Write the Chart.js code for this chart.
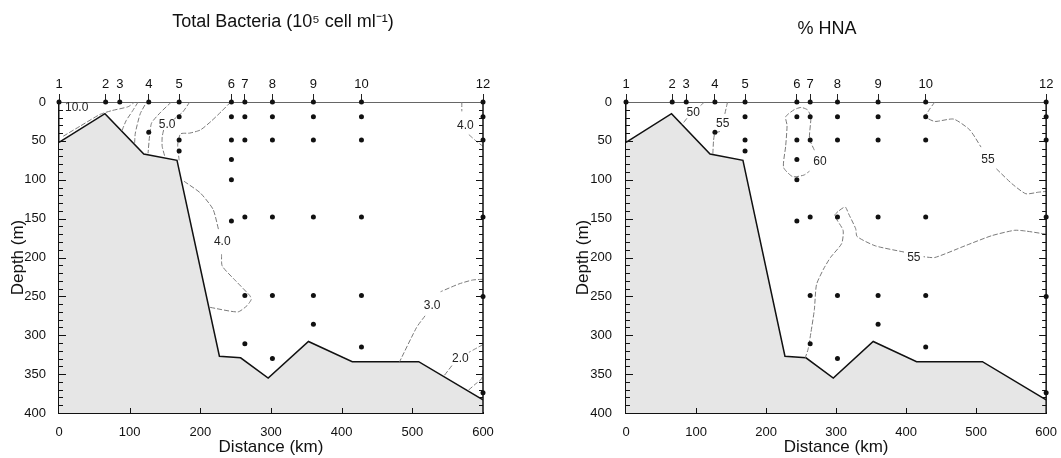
<!DOCTYPE html>
<html>
<head>
<meta charset="utf-8">
<script src="https://cdn.jsdelivr.net/npm/chart.js@4.4.1/dist/chart.umd.min.js"></script>
<style>
  html, body { margin: 0; padding: 0; background: #fff; }
  #wrap { position: relative; width: 1061px; height: 458px; }
  .panel { position: absolute; top: 0; height: 458px; }
  #left { left: 0; width: 530px; }
  #right { left: 530px; width: 531px; }
</style>
</head>
<body>
<div id="wrap">
  <div class="panel" id="left"><canvas id="bactChart"></canvas></div>
  <div class="panel" id="right"><canvas id="hnaChart"></canvas></div>
</div>
<script>
// stations along the section
const stationNames = ['1', '2', '3', '4', '5', '6', '7', '8', '9', '10', '12'];
const stationKm = [0, 66, 86, 127, 170, 244, 263, 302, 360, 428, 600];
// sampled depths at each station (m)
const sampleDepths = [
    [0], [0], [0], [0, 39], [0, 19, 49, 63],
    [0, 19, 49, 74, 100, 153],
    [0, 19, 49, 148, 249, 311],
    [0, 19, 49, 148, 249, 330],
    [0, 19, 49, 148, 249, 286],
    [0, 19, 49, 148, 249, 315],
    [0, 19, 49, 148, 250, 374]
];

// bottom profile
const bottomKm = [0, 65, 120, 167, 227, 257, 296, 353, 415, 509, 600];
const bottomDepth = [52, 15, 67, 75, 327, 329, 355, 308, 334, 334, 383];

// Total bacteria contours, [km, m]
const bactContours = [
    [[6, 44], [30, 31], [58, 16], [75, 11], [98, 6], [107, 0]],
    [[89, 37], [95, 24], [103, 13], [112, 0]],
    [[107, 53], [108, 40], [115, 15], [124, 0]],
    [[159, 0], [143, 14], [131, 27], [128, 45], [126, 66]],
    [[185, 0], [175, 13], [163, 22]],
    [[148, 36], [146, 45], [146, 57], [150, 71]],
    [[243, 0], [230, 12], [215, 25], [200, 36], [185, 40], [172, 41], [168, 55], [170, 75]],
    [[177, 102], [200, 117], [218, 138], [226, 165]],
    [[230, 196], [231, 211], [250, 230], [270, 249], [272, 254], [266, 262], [253, 270], [213, 264]],
    [[600, 228], [585, 229], [566, 234], [540, 244]],
    [[518, 275], [506, 290], [482, 334]],
    [[600, 312], [588, 318], [580, 322]],
    [[556, 339], [545, 352]],
    [[600, 345], [598, 356], [589, 363], [579, 371]],
    [[570, 0], [570, 12]],
    [[580, 42], [590, 50], [600, 57]]
];
const bactLabels = [
    { x: 25, y: 7, t: '10.0' }, { x: 153, y: 29, t: '5.0' }, { x: 231, y: 180, t: '4.0' },
    { x: 575, y: 30, t: '4.0' }, { x: 528, y: 262, t: '3.0' }, { x: 568, y: 330, t: '2.0' }
];

// % HNA contours, [km, m]
const hnaContours = [
    [[112, 0], [106, 5]],
    [[87, 21], [80, 29]],
    [[145, 0], [141, 16]],
    [[134, 38], [127, 40], [125, 50], [124, 67]],
    [[269, 62], [262, 47], [264, 19], [259, 10], [250, 7], [240, 10], [228, 19], [230, 30],
     [228, 57], [225, 84], [238, 96], [254, 94], [262, 89]],
    [[441, 0], [433, 10], [428, 19], [441, 25], [468, 22], [491, 36], [507, 58]],
    [[529, 86], [551, 105], [571, 118], [589, 116], [600, 115]],
    [[600, 170], [571, 166], [555, 165], [522, 172], [484, 185], [441, 200], [425, 199]],
    [[397, 193], [356, 185], [330, 173], [328, 163], [318, 144], [313, 135], [304, 140],
     [298, 146], [310, 165], [308, 182], [292, 200], [282, 215], [272, 235], [269, 267],
     [264, 297], [260, 318], [256, 329]]
];
const hnaLabels = [
    { x: 96, y: 14, t: '50' }, { x: 138, y: 28, t: '55' }, { x: 277, y: 77, t: '60' },
    { x: 517, y: 74, t: '55' }, { x: 411, y: 200, t: '55' }
];

const FONT = "'Liberation Sans', Arial, sans-serif";
const INK = '#111';

const samplePts = [];
stationKm.forEach((km, i) => sampleDepths[i].forEach(d => samplePts.push({ x: km, y: d })));

// frame, inward ticks, contour labels and panel title
const sectionDecor = {
    id: 'sectionDecor',
    afterDatasetsDraw(chart, args, opts) {
        const { ctx, chartArea: a } = chart;
        const x = chart.scales.x, y = chart.scales.y;
        ctx.save();
        ctx.strokeStyle = INK;
        ctx.lineWidth = 1.5;
        ctx.beginPath();
        ctx.moveTo(a.right, a.top);
        ctx.lineTo(a.right, a.bottom);
        ctx.stroke();

        ctx.lineWidth = 1;
        ctx.beginPath();
        for (let d = 10; d < 400; d += 10) {
            const py = Math.round(y.getPixelForValue(d)) + 0.5;
            const len = d % 50 === 0 ? 7 : 4;
            ctx.moveTo(a.left, py); ctx.lineTo(a.left + len, py);
            ctx.moveTo(a.right, py); ctx.lineTo(a.right - len, py);
        }
        for (let k = 100; k < 600; k += 100) {
            const px = Math.round(x.getPixelForValue(k)) + 0.5;
            ctx.moveTo(px, a.bottom); ctx.lineTo(px, a.bottom - 5);
        }
        ctx.stroke();

        ctx.fillStyle = '#222';
        ctx.font = '12px ' + FONT;
        ctx.textAlign = 'center';
        ctx.textBaseline = 'middle';
        opts.labels.forEach(l => {
            ctx.fillText(l.t, x.getPixelForValue(l.x), y.getPixelForValue(l.y));
        });

        ctx.fillStyle = INK;
        ctx.font = '18px ' + FONT;
        ctx.fillText(opts.title, opts.titleX, opts.titleY);
        ctx.restore();
    }
};

function makePanel(canvasId, cfg) {
    const datasets = [
        {
            data: bottomKm.map((km, i) => ({ x: km, y: bottomDepth[i] })),
            borderColor: INK,
            borderWidth: 1.5,
            backgroundColor: '#e6e6e6',
            fill: { value: 400 },
            pointRadius: 0,
            tension: 0,
            order: 3
        }
    ];
    cfg.contours.forEach(seg => datasets.push({
        data: seg.map(p => ({ x: p[0], y: p[1] })),
        borderColor: '#7a7a7a',
        borderWidth: 1,
        borderDash: [5, 2],
        pointRadius: 0,
        fill: false,
        tension: 0.2,
        order: 2
    }));
    datasets.push({
        data: samplePts,
        showLine: false,
        pointRadius: 2.5,
        pointBackgroundColor: INK,
        pointBorderWidth: 0,
        clip: false,
        order: 1
    });

    new Chart(document.getElementById(canvasId), {
        type: 'line',
        data: { datasets: datasets },
        options: {
            responsive: true,
            maintainAspectRatio: false,
            animation: false,
            events: [],
            layout: { padding: { left: 0, right: cfg.padRight, top: 0, bottom: 0 } },
            plugins: {
                legend: { display: false },
                tooltip: { enabled: false },
                sectionDecor: { labels: cfg.labels, title: cfg.title, titleX: cfg.titleX, titleY: cfg.titleY }
            },
            scales: {
                x: {
                    type: 'linear', position: 'bottom', min: 0, max: 600,
                    ticks: { stepSize: 100, color: INK, font: { size: 13, family: FONT }, padding: 4, maxRotation: 0 },
                    grid: { display: false },
                    border: { display: true, color: INK, width: 2 },
                    title: { display: true, text: 'Distance (km)', color: INK, font: { size: 17, family: FONT }, padding: { top: 0, bottom: 0 } },
                    afterFit: s => { s.height = 45; }
                },
                xTop: {
                    type: 'linear', position: 'top', min: 0, max: 600,
                    afterBuildTicks: s => { s.ticks = stationKm.map(v => ({ value: v })); },
                    ticks: {
                        callback: (v, i) => stationNames[i],
                        autoSkip: false, maxRotation: 0, padding: 2,
                        color: INK, font: { size: 13, family: FONT }
                    },
                    grid: { display: true, drawOnChartArea: false, drawTicks: true, tickLength: 8, color: '#222', lineWidth: 1 },
                    border: { display: true, color: '#666', width: 1 },
                    afterFit: s => { s.height = 102; }
                },
                y: {
                    type: 'linear', position: 'left', reverse: true, min: 0, max: 400,
                    ticks: { stepSize: 50, color: INK, font: { size: 13, family: FONT }, padding: cfg.tickPad },
                    grid: { display: false },
                    border: { display: true, color: INK, width: 1.5 },
                    title: { display: true, text: 'Depth (m)', color: INK, font: { size: 17, family: FONT }, padding: { top: cfg.titlePad, bottom: 0 } },
                    afterFit: s => { s.width = cfg.axisWidth; }
                }
            }
        },
        plugins: [sectionDecor]
    });
}

makePanel('bactChart', {
    contours: bactContours, labels: bactLabels,
    title: 'Total Bacteria (10\u2075 cell ml\u207B\u00B9)', titleX: 283, titleY: 22,
    axisWidth: 59, padRight: 47, tickPad: 5, titlePad: 8
});
makePanel('hnaChart', {
    contours: hnaContours, labels: hnaLabels,
    title: '% HNA', titleX: 297, titleY: 29,
    axisWidth: 96, padRight: 13, tickPad: 6, titlePad: 43
});
</script>
</body>
</html>
